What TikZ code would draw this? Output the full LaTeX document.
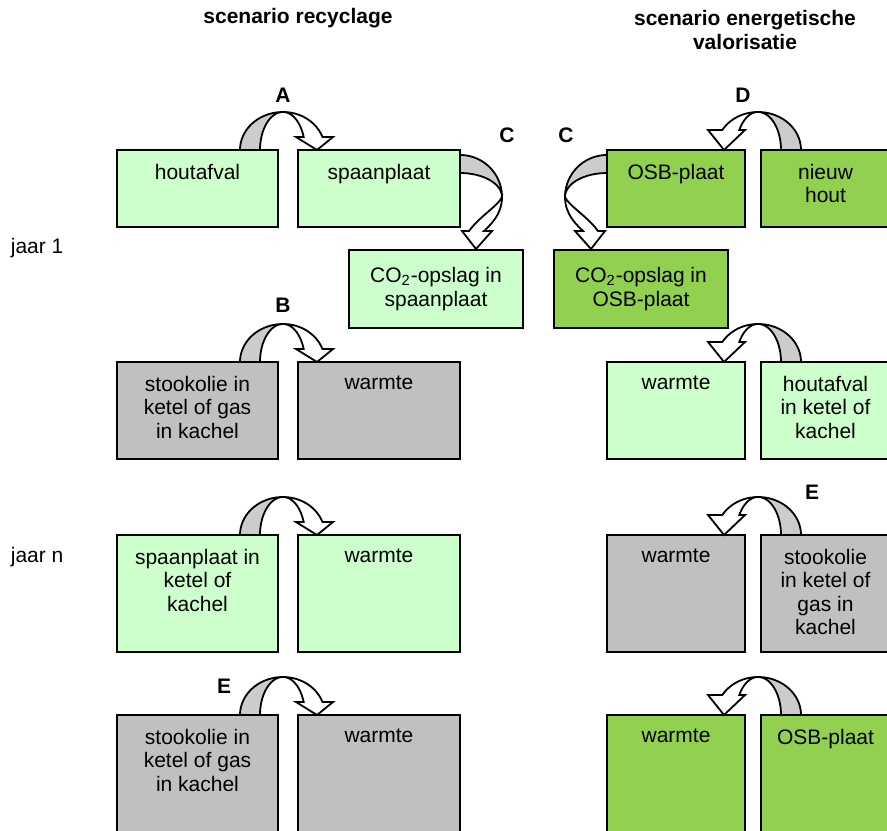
\documentclass[tikz,border=0pt]{standalone}
\usepackage{fontspec}
\setmainfont{Liberation Sans}
\usetikzlibrary{positioning, calc}
\definecolor{lightGreen}{HTML}{CCFFCC}
\definecolor{leafGreen}{HTML}{92D050}
\definecolor{boxGray}{HTML}{C0C0C0}
\definecolor{arrowGray}{HTML}{CCCCCC}
\newcommand{\fsize}{\fontsize{10.5pt}{11.8pt}\selectfont}

% U-turn block arrow over the gap between two boxes
\newcommand{\turnarrow}[4]{%
  \begin{scope}[shift={($(#1.north east)!0.5!(#2.north west)$)}, shift={({-5*#3},0)},
                xscale=#3, yscale=-1]
    \pgfmathsetmacro{\headang}{asin(#4/38)}
    \filldraw[fill=arrowGray] plot[domain=180:90, samples=25] ({43*cos(\x)}, {38*sin(\x)})
      -- plot[domain=90:180, samples=25] ({23*cos(\x)}, {38*sin(\x)}) -- cycle;
    \filldraw[fill=white] plot[domain=90:\headang, samples=25] ({42*cos(\x)}, {38*sin(\x)})
      -- (50,#4) -- (34,0) -- (13,#4)
      -- plot[domain=\headang:90, samples=25] ({22*cos(\x)}, {38*sin(\x)}) -- cycle;
  \end{scope}}

% block arrow from the side of a box down to the box below
\newcommand{\sidearrow}[2]{%
  \begin{scope}[shift={(#1)}, xscale=#2]
    \filldraw[fill=arrowGray] plot[domain=90:0, samples=25] ({42*cos(\x)}, {47-42*sin(\x)})
      -- plot[domain=0:90, samples=25] ({42*cos(\x)}, {47-24*sin(\x)}) -- cycle;
    \filldraw[fill=white] (42,47) .. controls (42,65) and (30,75) .. (24,81)
      -- (32,81) -- (16,99) -- (2,81) -- (9,81)
      .. controls (20,66) and (38,56) .. (42,47) -- cycle;
  \end{scope}}

\begin{document}
\begin{tikzpicture}[x=0.5pt, y=-0.5pt, line width=0.9pt,
  cell/.style 2 args={draw, inner sep=0pt, outer sep=0pt, anchor=north west,
                      minimum width=#1, minimum height=#2},
  txt/.style={font=\fsize, align=center, inner sep=0pt, anchor=north, yshift=-6.5pt},
  head/.style={font=\fsize\bfseries, align=center},
  letter/.style={font=\fsize\bfseries},
  year/.style={font=\fsize, anchor=west, inner sep=0pt},
]
  \clip (0,0) rectangle (887,830);

  % titles and years
  \node[head] (titleRec) at (298,18) {scenario recyclage};
  \node[head] (titleVal) at (745,30) {scenario energetische\\valorisatie};
  \node[year] (year1) at (10,248) {jaar 1};
  \node[year] (yearN) at (10,557) {jaar n};

  % scenario recyclage
  \node[cell={80.5pt}{38.5pt}, fill=lightGreen, label={[txt]north:houtafval}] (hout) at (117,150) {};
  \node[cell={81pt}{38.5pt}, fill=lightGreen, label={[txt]north:spaanplaat},
        right=10pt of hout] (spaan) {};
  \node[cell={87pt}{39pt}, fill=lightGreen, font=\fsize, align=center] (co2spaan) at (349,250)
    {CO\textsubscript{2}-opslag in\\spaanplaat};
  \node[cell={80.5pt}{48.5pt}, fill=boxGray,
        label={[txt]north:stookolie in\\ketel of gas\\in kachel}] (oil1) at (117,362) {};
  \node[cell={81pt}{48.5pt}, fill=boxGray, label={[txt]north:warmte},
        right=10pt of oil1] (heat1) {};
  \node[cell={80.5pt}{58.5pt}, fill=lightGreen,
        label={[txt]north:spaanplaat in\\ketel of\\kachel}] (chipburn) at (117,535) {};
  \node[cell={81pt}{58.5pt}, fill=lightGreen, label={[txt]north:warmte},
        right=10pt of chipburn] (heat2) {};
  \node[cell={80.5pt}{65pt}, fill=boxGray,
        label={[txt]north:stookolie in\\ketel of gas\\in kachel}] (oil2) at (117,715) {};
  \node[cell={81pt}{65pt}, fill=boxGray, label={[txt]north:warmte},
        right=10pt of oil2] (heat3) {};

  % scenario energetische valorisatie
  \node[cell={69pt}{38.5pt}, fill=leafGreen, label={[txt]north:OSB-plaat}] (osb) at (607,150) {};
  \node[cell={64.5pt}{38.5pt}, fill=leafGreen, label={[txt]north:nieuw\\hout},
        right=8pt of osb] (wood) {};
  \node[cell={87pt}{39pt}, fill=leafGreen, font=\fsize, align=center] (co2osb) at (554,250)
    {CO\textsubscript{2}-opslag in\\OSB-plaat};
  \node[cell={69pt}{48.5pt}, fill=lightGreen, label={[txt]north:warmte}] (heatE1) at (607,362) {};
  \node[cell={64.5pt}{48.5pt}, fill=lightGreen, label={[txt]north:houtafval\\in ketel of\\kachel},
        right=8pt of heatE1] (wasteburn) {};
  \node[cell={69pt}{58.5pt}, fill=boxGray, label={[txt]north:warmte}] (heatE2) at (607,535) {};
  \node[cell={64.5pt}{58.5pt}, fill=boxGray, label={[txt]north:stookolie\\in ketel of\\gas in\\kachel},
        right=8pt of heatE2] (oilE) {};
  \node[cell={69pt}{65pt}, fill=leafGreen, label={[txt]north:warmte}] (heatE3) at (607,715) {};
  \node[cell={64.5pt}{65pt}, fill=leafGreen, label={[txt]north:OSB-plaat},
        right=8pt of heatE3] (osbburn) {};

  % block arrows
  \turnarrow{hout}{spaan}{1}{13}
  \turnarrow{oil1}{heat1}{1}{13}
  \turnarrow{chipburn}{heat2}{1}{13}
  \turnarrow{oil2}{heat3}{1}{13}
  \turnarrow{osb}{wood}{-1}{20}
  \turnarrow{heatE1}{wasteburn}{-1}{20}
  \turnarrow{heatE2}{oilE}{-1}{20}
  \turnarrow{heatE3}{osbburn}{-1}{20}
  \sidearrow{spaan.north east}{1}
  \sidearrow{osb.north west}{-1}

  % letters
  \node[letter] (letA) at (283,95) {A};
  \node[letter] (letB) at (283,305) {B};
  \node[letter] (letC1) at (507,135) {C};
  \node[letter] (letC2) at (566,135) {C};
  \node[letter] (letD) at (743,95) {D};
  \node[letter] (letE1) at (812,492) {E};
  \node[letter] (letE2) at (224,686) {E};
\end{tikzpicture}
\end{document}
